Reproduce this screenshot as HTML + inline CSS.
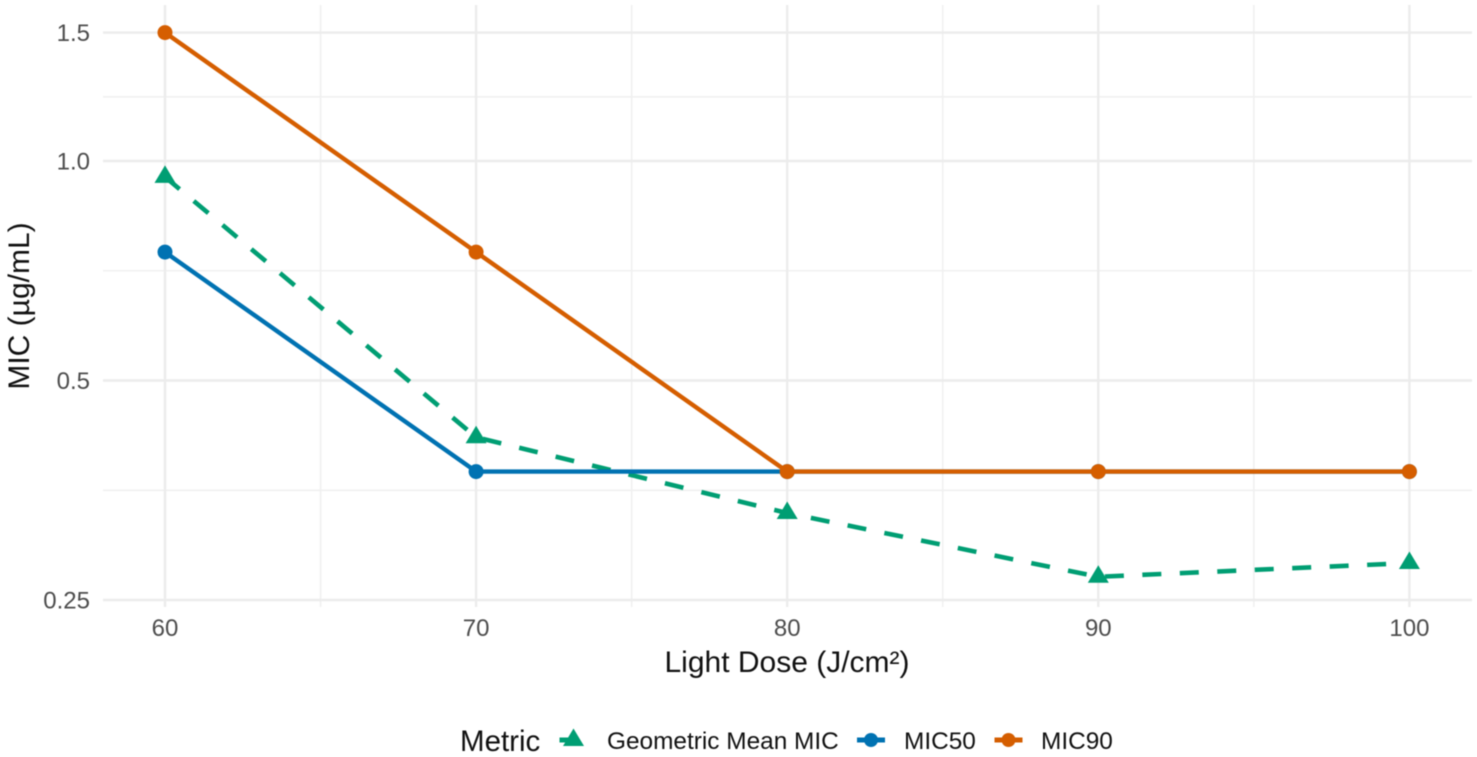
<!DOCTYPE html>
<html>
<head>
<meta charset="utf-8">
<title>MIC vs Light Dose</title>
<style>
html,body{margin:0;padding:0;background:#fff;width:1477px;height:757px;overflow:hidden}
svg{display:block;filter:blur(0.4px)}
text{font-family:"Liberation Sans",Arial,sans-serif}
</style>
</head>
<body>
<svg id="chart" width="1477" height="757" viewBox="0 0 1477 757" xmlns="http://www.w3.org/2000/svg">
<rect width="1477" height="757" fill="#fff"/>
<g id="grid"></g>
<g id="ticks"></g>
<g id="series"></g>
<text x="787" y="672" font-size="30" text-anchor="middle" fill="#111">Light Dose (J/cm²)</text>
<text transform="translate(29,306) rotate(-90)" font-size="30" text-anchor="middle" fill="#111">MIC (µg/mL)</text>
<g id="legend">
<text x="460" y="751" font-size="29.5" fill="#111">Metric</text>
</g>
</svg>
<script>
const doses = [60, 70, 80, 90, 100];
const geoMean = [0.951, 0.418, 0.329, 0.269, 0.281];
const mic50 = [0.75, 0.375, 0.375, 0.375, 0.375];
const mic90 = [1.5, 0.75, 0.375, 0.375, 0.375];
const yMajorTicks = [0.25, 0.5, 1.0, 1.5];
const yTickLabels = ["0.25", "0.5", "1.0", "1.5"];
const yMinorTicks = [0.3535, 0.7071, 1.2247];
const xMajorTicks = [60, 70, 80, 90, 100];
const xMinorTicks = [65, 75, 85, 95];
const legendLabels = ["Geometric Mean MIC", "MIC50", "MIC90"];

const NS = "http://www.w3.org/2000/svg";
const GREEN = "#009E73", BLUE = "#0072B2", ORANGE = "#D55E00";
function xScale(v) { return 165 + (v - 60) * 31.11; }
function yScale(v) { return 161 - Math.log2(v) * 219.5; }
function mk(parent, tag, attrs) {
  const el = document.createElementNS(NS, tag);
  for (const k in attrs) el.setAttribute(k, attrs[k]);
  parent.appendChild(el);
  return el;
}
const grid = document.getElementById("grid");
const ticks = document.getElementById("ticks");
const series = document.getElementById("series");
const legend = document.getElementById("legend");

yMinorTicks.forEach(function (v) {
  const l = mk(grid, "line", { x1: 103, x2: 1472, y1: yScale(v), y2: yScale(v), stroke: "#f0f0f0", "stroke-width": 1.6 });
  
  
});
xMinorTicks.forEach(function (v) {
  const l = mk(grid, "line", { x1: xScale(v), x2: xScale(v), y1: 5, y2: 607, stroke: "#f0f0f0", "stroke-width": 1.6 });
  
  
});
yMajorTicks.forEach(function (v, i) {
  const l = mk(grid, "line", { x1: 103, x2: 1472, y1: yScale(v), y2: yScale(v), stroke: "#ececec", "stroke-width": 2.4 });
  
  
  const t = mk(ticks, "text", { x: 90, y: yScale(v) + 8.5, "font-size": 24, "text-anchor": "end", fill: "#4d4d4d" });
  
  
  t.textContent = yTickLabels[i];
});
xMajorTicks.forEach(function (v) {
  const l = mk(grid, "line", { x1: xScale(v), x2: xScale(v), y1: 5, y2: 607, stroke: "#ececec", "stroke-width": 2.4 });
  
  
  const t = mk(ticks, "text", { x: xScale(v), y: 636, "font-size": 24, "text-anchor": "middle", fill: "#4d4d4d" });
  
  
  t.textContent = String(v);
});

function triPoints(cx, cy) {
  return cx + "," + (cy - 11.5) + " " + (cx - 10.5) + "," + (cy + 6) + " " + (cx + 10.5) + "," + (cy + 6);
}
function linePoints(values) {
  return values.map(function (v, i) { return xScale(doses[i]) + "," + yScale(v); }).join(" ");
}

const geoLine = mk(series, "polyline", { points: linePoints(geoMean), fill: "none", stroke: GREEN, "stroke-width": 4.6, "stroke-dasharray": "19 18.5" });


geoMean.forEach(function (v, i) {
  const m = mk(series, "polygon", { points: triPoints(xScale(doses[i]), yScale(v)), fill: GREEN });
  
  
});

const blueLine = mk(series, "polyline", { points: linePoints(mic50), fill: "none", stroke: BLUE, "stroke-width": 4.4 });


mic50.forEach(function (v, i) {
  const m = mk(series, "circle", { cx: xScale(doses[i]), cy: yScale(v), r: 7.5, fill: BLUE });
  
  
});

const orangeLine = mk(series, "polyline", { points: linePoints(mic90), fill: "none", stroke: ORANGE, "stroke-width": 4.4 });


mic90.forEach(function (v, i) {
  const m = mk(series, "circle", { cx: xScale(doses[i]), cy: yScale(v), r: 7.5, fill: ORANGE });
  
  
});

/* legend */
const legendColors = [GREEN, BLUE, ORANGE];
const legendKeyX = [573.5, 871, 1008.5];
const legendTextX = [607, 904, 1041];
legendLabels.forEach(function (label, i) {
  const c = legendColors[i], kx = legendKeyX[i], ky = 740;
  const seg = mk(legend, "line", { x1: kx - 14, x2: i === 0 ? kx : kx + 14, y1: ky, y2: ky, stroke: c, "stroke-width": 5 });
  
  
  let mark;
  if (i === 0) {
    mark = mk(legend, "polygon", { points: triPoints(kx, ky), fill: c });
  } else {
    mark = mk(legend, "circle", { cx: kx, cy: ky, r: 7, fill: c });
  }
  
  
  const t = mk(legend, "text", { x: legendTextX[i], y: 749, "font-size": 24.4, fill: "#111" });
  
  
  t.textContent = label;
});
</script>
</body>
</html>
